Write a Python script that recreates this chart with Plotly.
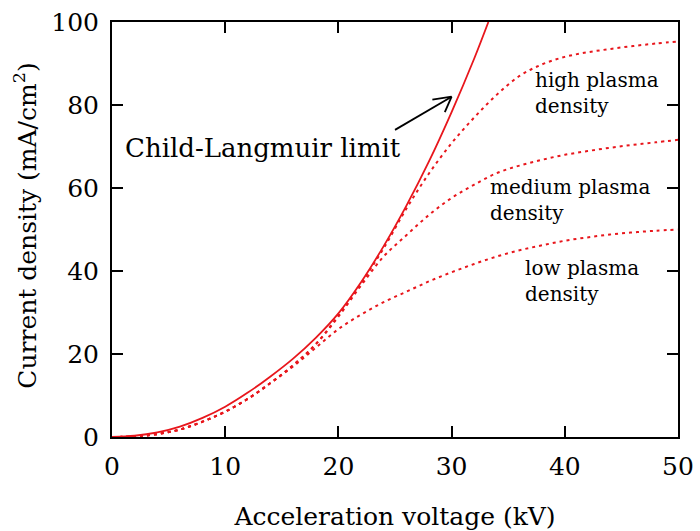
import plotly.graph_objects as go

# Child-Langmuir limit (solid)
cl_v = [0, 2, 4, 6, 8, 10, 12, 14, 16, 18, 20, 22, 24, 26, 28, 30, 32, 33.25]
cl_j = [0, 0.3, 1.1, 2.5, 4.6, 7.3, 10.7, 14.6, 18.9, 23.9, 29.8, 37.3, 46.0, 55.7, 66.4, 78.3, 91.2, 100]

volts = [0, 2, 4, 6, 8, 10, 12, 14, 16, 18, 20, 22, 24, 26, 28, 30, 32, 34, 36, 38, 40, 42, 44, 46, 48, 50]
high_j = [0, 0.15, 0.7, 1.8, 3.7, 6.1, 9.2, 13.0, 17.3, 22.4, 29.3, 37.0, 45.5, 55.0, 63.5, 70.8, 77.0, 82.5, 87.0, 89.8, 91.6, 92.7, 93.5, 94.2, 94.8, 95.3]
medium_j = [0, 0.15, 0.7, 1.8, 3.7, 6.1, 9.2, 13.0, 17.3, 22.3, 29.0, 36.5, 43.5, 48.6, 53.5, 57.6, 60.8, 63.6, 65.4, 66.8, 68.0, 68.9, 69.7, 70.4, 71.0, 71.6]
low_j = [0, 0.15, 0.7, 1.8, 3.7, 6.1, 9.2, 13.0, 17.0, 21.5, 26.0, 29.5, 32.5, 35.0, 37.5, 39.7, 41.7, 43.5, 45.0, 46.2, 47.3, 48.1, 48.8, 49.3, 49.7, 50.0]

x_ticks = [0, 10, 20, 30, 40, 50]
y_ticks = [0, 20, 40, 60, 80, 100]

RED = "rgb(232,22,28)"
FONT = "DejaVu Serif"

fig = go.Figure()
for ys in (high_j, medium_j, low_j):
    fig.add_trace(go.Scatter(x=volts, y=ys, mode="lines", line_shape="spline",
                             line=dict(color=RED, width=2, dash="3px,4px"),
                             showlegend=False, hoverinfo="skip"))
fig.add_trace(go.Scatter(x=cl_v, y=cl_j, mode="lines", line_shape="spline",
                         line=dict(color=RED, width=1.8), showlegend=False,
                         hoverinfo="skip"))

# arrow (open head) pointing at the Child-Langmuir curve
arrow_tip = (30.0, 82.0)
arrow_tail = (25.0, 74.0)
arrow_wings = [(28.3, 81.3), (29.4, 78.3)]
fig.add_shape(type="line", x0=arrow_tail[0], y0=arrow_tail[1], x1=arrow_tip[0], y1=arrow_tip[1],
              xref="x", yref="y", line=dict(color="black", width=1.8))
for wx, wy in arrow_wings:
    fig.add_shape(type="line", x0=wx, y0=wy, x1=arrow_tip[0], y1=arrow_tip[1],
                  xref="x", yref="y", line=dict(color="black", width=1.8))

fig.add_annotation(x=1.0, y=69.6, xref="x", yref="y", text="Child-Langmuir limit",
                   showarrow=False, xanchor="left", yanchor="middle",
                   font=dict(family=FONT, size=26, color="black"))
labels = [("high plasma<br>density", 37.2, 82.8),
          ("medium plasma<br>density", 33.2, 57.1),
          ("low plasma<br>density", 36.3, 37.5)]
for txt, xx, yy in labels:
    fig.add_annotation(x=xx, y=yy, xref="x", yref="y", text=txt, showarrow=False,
                       xanchor="left", yanchor="middle", align="left",
                       font=dict(family=FONT, size=20, color="black"))

# y-axis title
fig.add_annotation(x=-0.153, y=0.51, xref="paper", yref="paper",
                   text="Current density (mA/cm<sup>2</sup>)", showarrow=False,
                   textangle=-90, xanchor="center", yanchor="middle",
                   font=dict(family=FONT, size=25, color="black"))

axis_common = dict(showgrid=False, zeroline=False, showline=True, linecolor="black",
                   linewidth=2, mirror="ticks", ticks="inside", ticklen=11,
                   tickwidth=1.5, tickcolor="black",
                   tickfont=dict(family=FONT, size=25, color="black"))
fig.update_xaxes(range=[0, 50], tickvals=x_ticks, ticklabelstandoff=6,
                 title=dict(text="Acceleration voltage (kV)", standoff=28,
                            font=dict(family=FONT, size=25, color="black")),
                 **axis_common)
fig.update_yaxes(range=[0, 100], tickvals=y_ticks, ticklabelstandoff=6,
                 **axis_common)
fig.update_layout(width=700, height=531, margin=dict(l=112, r=22, t=22, b=94, autoexpand=False),
                  plot_bgcolor="white", paper_bgcolor="white")
fig.write_html("out.html", config={"displayModeBar": False},
               post_script="document.body.style.margin='0';")
